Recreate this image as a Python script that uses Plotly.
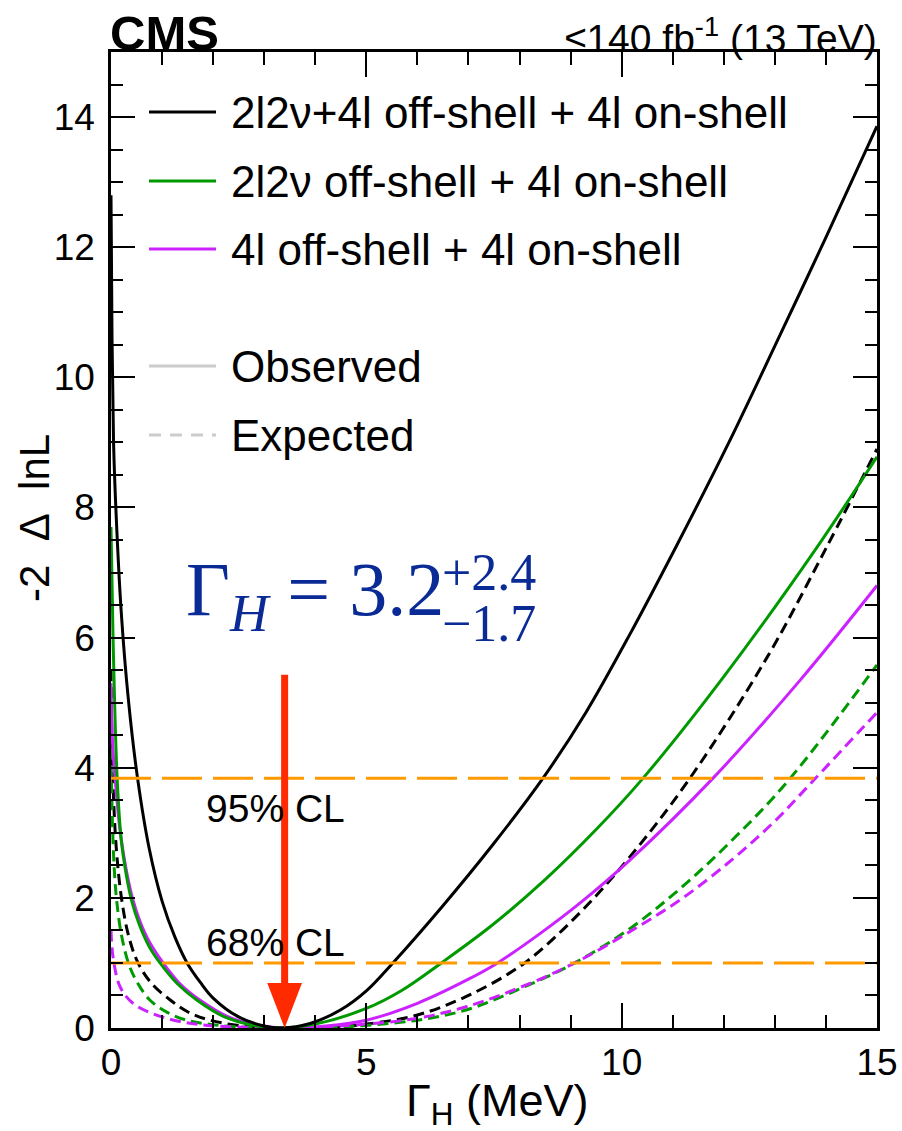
import plotly.graph_objects as go

# ---- likelihood scans: -2 delta lnL versus Higgs width (MeV) ----
# Observed, 2l2nu + 4l off-shell + 4l on-shell
comb_obs_x = [0, 0.02, 0.05, 0.1, 0.2, 0.34, 0.52, 0.75, 1.0, 1.25, 1.49, 1.75, 2.0, 2.5, 3.0, 3.35,
              3.9, 4.5, 5.0, 5.52, 6.5, 7.48, 8.46, 9.3, 10.16, 11.08, 12.1, 13.1, 14.0, 15]
comb_obs_y = [12.8, 10.6, 9.0, 7.9, 6.4, 5.05, 3.84, 2.75, 1.95, 1.4, 1.0, 0.7, 0.46, 0.17, 0.03, 0.0,
              0.07, 0.28, 0.57, 1.0, 1.88, 2.82, 3.84, 4.85, 6.05, 7.42, 9.0, 10.65, 12.15, 13.86]
# Expected, combined
comb_exp_x = [0, 0.03, 0.1, 0.21, 0.35, 0.53, 0.8, 1.16, 1.5, 1.94, 2.7, 3.4,
              4.2, 5.0, 6.0, 7.0, 8.1, 9.18, 10.16, 11.32, 12.85, 14.02, 15]
comb_exp_y = [5.5, 4.0, 2.8, 1.97, 1.4, 1.0, 0.68, 0.43, 0.25, 0.12, 0.02, 0.0,
              0.01, 0.06, 0.2, 0.5, 1.0, 1.77, 2.63, 3.82, 5.7, 7.4, 8.9]

# Observed, 2l2nu off-shell + 4l on-shell
zz2l2nu_obs_x = [0, 0.04, 0.12, 0.2, 0.3, 0.4, 0.55, 0.75, 0.96, 1.3, 1.68, 2.2, 2.8, 3.3,
                 4.0, 5.0, 5.7, 6.47, 7.48, 8.5, 9.5, 10.42, 12.0, 13.8, 15]
zz2l2nu_obs_y = [7.7, 6.0, 3.84, 2.9, 2.35, 1.97, 1.6, 1.25, 1.0, 0.68, 0.43, 0.18, 0.04, 0.0,
                 0.06, 0.3, 0.58, 1.0, 1.59, 2.28, 3.05, 3.84, 5.4, 7.36, 8.78]
# Expected, 2l2nu off-shell + 4l on-shell
zz2l2nu_exp_x = [0, 0.02, 0.06, 0.11, 0.2, 0.34, 0.5, 0.76, 1.1, 1.48, 2.0, 2.7, 3.5,
                 4.3, 5.0, 6.0, 6.97, 8.0, 9.08, 10.2, 11.2, 12.18, 13.26, 15]
zz2l2nu_exp_y = [4.3, 3.4, 2.5, 1.97, 1.45, 1.0, 0.72, 0.43, 0.24, 0.12, 0.05, 0.01, 0.0,
                 0.01, 0.04, 0.12, 0.28, 0.6, 1.0, 1.55, 2.18, 2.9, 3.8, 5.58]

# Observed, 4l off-shell + 4l on-shell
zz4l_obs_x = [0, 0.03, 0.08, 0.2, 0.43, 0.7, 1.02, 1.35, 1.74, 2.3, 2.9, 3.4,
              4.2, 5.0, 6.0, 7.0, 7.57, 8.4, 9.2, 10.16, 11.79, 13.5, 15]
zz4l_obs_y = [5.3, 4.4, 3.84, 2.9, 1.97, 1.4, 1.0, 0.68, 0.43, 0.17, 0.04, 0.0,
              0.03, 0.12, 0.38, 0.75, 1.0, 1.45, 1.93, 2.58, 3.84, 5.35, 6.8]
# Expected, 4l off-shell + 4l on-shell
zz4l_exp_x = [0, 0.04, 0.18, 0.43, 0.82, 1.35, 1.9, 2.6, 3.3, 4.2, 5.0, 6.0, 6.97,
              8.0, 9.08, 10.2, 11.2, 12.18, 13.0, 13.75, 15]
zz4l_exp_y = [1.5, 1.09, 0.63, 0.38, 0.22, 0.1, 0.04, 0.01, 0.0, 0.02, 0.06, 0.15, 0.33,
              0.62, 1.0, 1.5, 2.0, 2.6, 3.18, 3.8, 4.85]

# confidence-level thresholds
cl_levels = [1.0, 3.84]
cl_labels = ["68% CL", "95% CL"]

# best-fit width and its interval
gamma_best = 3.2
gamma_up = 2.4
gamma_down = 1.7
arrow_x = 3.4      # position of the best-fit marker on the axis
arrow_top = 5.43

legend_labels = ["2l2\u03bd+4l off-shell + 4l on-shell",
                 "2l2\u03bd off-shell + 4l on-shell",
                 "4l off-shell + 4l on-shell"]

BLACK = "#000000"
GREEN = "#009a00"
VIOLET = "#cc22ff"
ORANGE = "#ff9a00"
RED = "#ff2a00"
BLUE = "#0a2a96"
GREY = "#cccccc"

SANS = "Liberation Sans, Arial, Helvetica, sans-serif"
SERIF = "Liberation Serif, Times New Roman, serif"

W, H = 902, 1131
L, R, T, B = 111, 877, 52, 1028   # plot-area edges in pixels


def px(x):
    return (x - L) / (R - L)


def py(y):
    return (B - y) / (B - T)


fig = go.Figure()

curves = [
    (comb_exp_x, comb_exp_y, BLACK, "11px,6px"),
    (zz2l2nu_exp_x, zz2l2nu_exp_y, GREEN, "11px,6px"),
    (zz4l_exp_x, zz4l_exp_y, VIOLET, "11px,6px"),
    (zz4l_obs_x, zz4l_obs_y, VIOLET, "solid"),
    (zz2l2nu_obs_x, zz2l2nu_obs_y, GREEN, "solid"),
    (comb_obs_x, comb_obs_y, BLACK, "solid"),
]
for xs, ys, col, dash in curves:
    fig.add_trace(go.Scatter(
        x=xs, y=ys, mode="lines",
        line=dict(color=col, width=3, dash=dash, shape="spline", smoothing=1.0),
        showlegend=False, hoverinfo="skip", cliponaxis=True,
    ))

# horizontal CL lines
for lvl in cl_levels:
    fig.add_trace(go.Scatter(
        x=[0, 15], y=[lvl, lvl], mode="lines",
        line=dict(color=ORANGE, width=3, dash="40px,11px"),
        showlegend=False, hoverinfo="skip",
    ))

shapes = []
# best-fit arrow: shaft and head
head_h = 0.69
head_w = 0.34
shapes.append(dict(type="line", xref="x", yref="y", x0=arrow_x, x1=arrow_x,
                   y0=arrow_top, y1=head_h, line=dict(color=RED, width=7)))
shapes.append(dict(type="path", xref="x", yref="y",
                   path=f"M {arrow_x - head_w},{head_h} L {arrow_x + head_w},{head_h} L {arrow_x},0 Z",
                   fillcolor=RED, line=dict(color=RED, width=0)))

# legend samples
leg_y = [112, 181, 249]
for yy, col in zip(leg_y, [BLACK, GREEN, VIOLET]):
    shapes.append(dict(type="line", xref="paper", yref="paper",
                       x0=px(149), x1=px(216), y0=py(yy), y1=py(yy),
                       line=dict(color=col, width=3)))
shapes.append(dict(type="line", xref="paper", yref="paper",
                   x0=px(149), x1=px(216), y0=py(366), y1=py(366),
                   line=dict(color=GREY, width=3)))
shapes.append(dict(type="line", xref="paper", yref="paper",
                   x0=px(149), x1=px(216), y0=py(435), y1=py(435),
                   line=dict(color=GREY, width=3, dash="12px,9px")))

annotations = []
for yy, lab in zip(leg_y, legend_labels):
    annotations.append(dict(xref="paper", yref="paper", x=px(229), y=py(yy),
                            text=lab, showarrow=False, xanchor="left", yanchor="middle",
                            font=dict(family=SANS, size=44, color="black")))
for yy, lab in zip([366, 435], ["Observed", "Expected"]):
    annotations.append(dict(xref="paper", yref="paper", x=px(229), y=py(yy),
                            text=lab, showarrow=False, xanchor="left", yanchor="middle",
                            font=dict(family=SANS, size=44, color="black")))

# CL labels: 68% sits above its line, 95% below its line
cl_label_y = [1.32, 3.38]
for ly, lab in zip(cl_label_y, cl_labels):
    annotations.append(dict(xref="x", yref="y", x=1.82, y=ly,
                            text=lab, showarrow=False, xanchor="left", yanchor="middle",
                            font=dict(family=SANS, size=39, color="black")))

# result text
annotations.append(dict(xref="paper", yref="paper", x=px(184), y=py(595),
                        text="\u0393<sub><i>H</i></sub> = %.1f" % gamma_best,
                        showarrow=False, xanchor="left", yanchor="middle",
                        font=dict(family=SERIF, size=76, color=BLUE)))
annotations.append(dict(xref="paper", yref="paper", x=px(440), y=py(572),
                        text="+%.1f" % gamma_up, showarrow=False,
                        xanchor="left", yanchor="middle",
                        font=dict(family=SERIF, size=52, color=BLUE)))
annotations.append(dict(xref="paper", yref="paper", x=px(440), y=py(623),
                        text="\u2212%.1f" % gamma_down, showarrow=False,
                        xanchor="left", yanchor="middle",
                        font=dict(family=SERIF, size=52, color=BLUE)))

# header
annotations.append(dict(xref="paper", yref="paper", x=px(108), y=py(33),
                        text="<b>CMS</b>", showarrow=False, xanchor="left", yanchor="middle",
                        font=dict(family=SANS, size=49, color="black")))
annotations.append(dict(xref="paper", yref="paper", x=px(879), y=py(35),
                        text="\u2264140 fb<sup>-1</sup> (13 TeV)", showarrow=False,
                        xanchor="right", yanchor="middle",
                        font=dict(family=SANS, size=39, color="black")))

# axis titles
annotations.append(dict(xref="paper", yref="paper", x=px(497), y=py(1103),
                        text="\u0393<sub>H</sub> (MeV)", showarrow=False,
                        xanchor="center", yanchor="middle",
                        font=dict(family=SANS, size=45, color="black")))
annotations.append(dict(xref="paper", yref="paper", x=px(34), y=py(518),
                        text="-2\u00a0\u00a0\u0394\u00a0\u00a0lnL", showarrow=False, textangle=-90,
                        xanchor="center", yanchor="middle",
                        font=dict(family=SANS, size=42, color="black")))

axis_common = dict(
    showgrid=False, zeroline=False, showline=True, linecolor="black", linewidth=2.5,
    mirror="ticks", ticks="inside", tickcolor="black", tickwidth=2, automargin=False,
    tickfont=dict(family=SANS, size=37, color="black"),
)

fig.update_layout(
    width=W, height=H,
    margin=dict(l=L, r=W - R, t=T, b=H - B, pad=0, autoexpand=False),
    paper_bgcolor="white", plot_bgcolor="white",
    shapes=shapes, annotations=annotations,
    xaxis=dict(range=[0, 15], dtick=5, tick0=0, ticklen=25,
               minor=dict(dtick=1, ticklen=13, ticks="inside", tickcolor="black", tickwidth=2),
               **axis_common),
    yaxis=dict(range=[0, 15], dtick=2, tick0=0, ticklen=24, ticklabelstandoff=6,
               minor=dict(dtick=0.5, ticklen=12, ticks="inside", tickcolor="black", tickwidth=2),
               **axis_common),
)

fig.write_html("out.html")
